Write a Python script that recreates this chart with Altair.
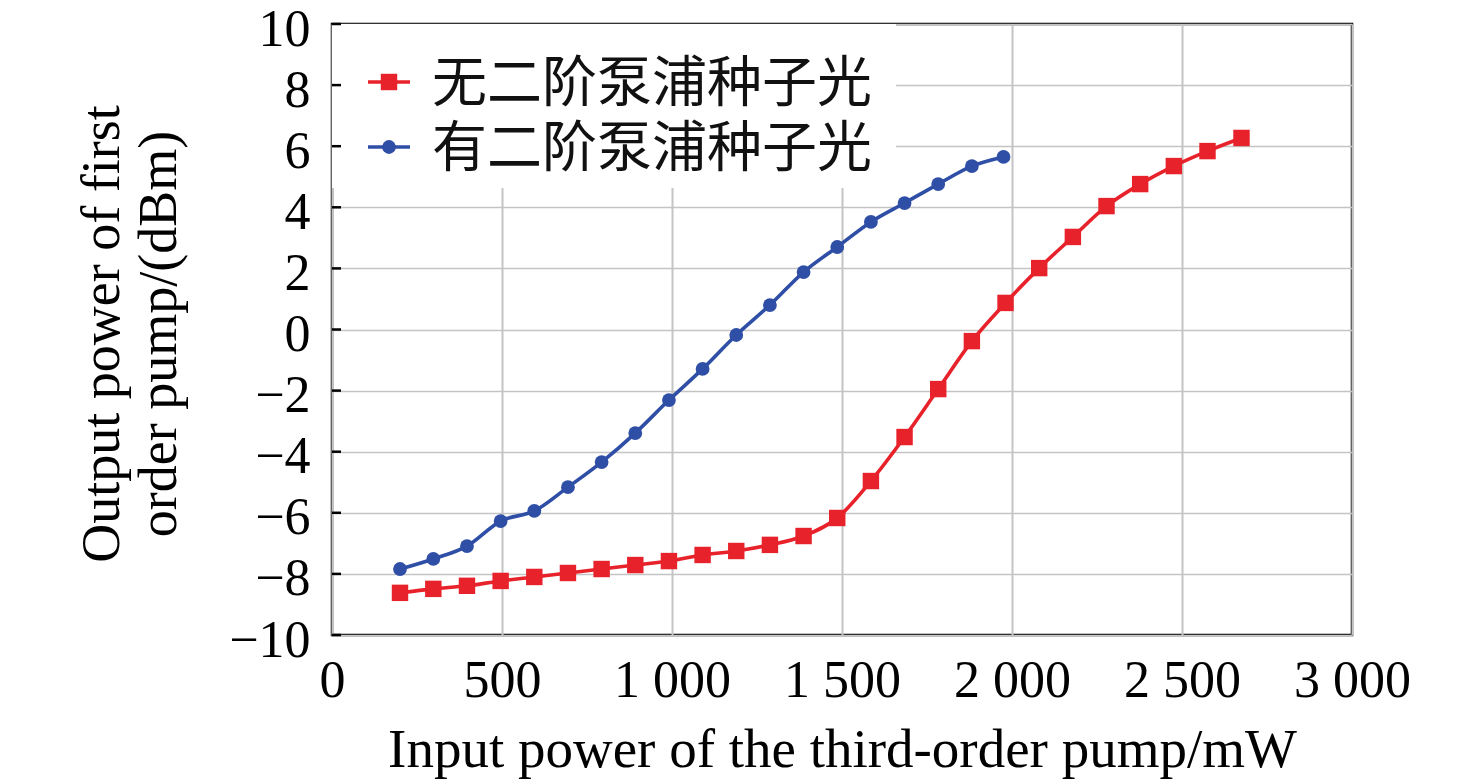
import altair as alt
import pandas as pd

# ---- data ----
series_names = ["无二阶泵浦种子光", "有二阶泵浦种子光"]
series_colors = ["#E8222B", "#2F4EA6"]

red_x = [200, 298, 397, 496, 595, 694, 793, 892, 991, 1090, 1189, 1288, 1387,
         1486, 1585, 1684, 1783, 1882, 1981, 2080, 2179, 2278, 2377, 2476, 2575, 2675]
red_y = [-8.62, -8.49, -8.39, -8.23, -8.10, -7.97, -7.84, -7.71, -7.58, -7.38, -7.25,
         -7.05, -6.76, -6.17, -4.96, -3.52, -1.95, -0.38, 0.87, 2.01, 3.03, 4.04,
         4.76, 5.35, 5.84, 6.27]

blue_x = [200, 298, 397, 496, 595, 694, 793, 892, 991, 1090, 1189, 1288, 1387,
          1486, 1585, 1684, 1783, 1882, 1975]
blue_y = [-7.84, -7.51, -7.09, -6.27, -5.94, -5.16, -4.34, -3.39, -2.31, -1.29, -0.18,
          0.80, 1.88, 2.70, 3.52, 4.14, 4.76, 5.35, 5.65]

x_ticks = [0, 500, 1000, 1500, 2000, 2500, 3000]
y_ticks = [-10, -8, -6, -4, -2, 0, 2, 4, 6, 8, 10]

x_title = "Input power of the third-order pump/mW"
y_title = ["Output power of first", "order pump/(dBm)"]

df = pd.concat([
    pd.DataFrame({"x": red_x, "y": red_y, "series": series_names[0]}),
    pd.DataFrame({"x": blue_x, "y": blue_y, "series": series_names[1]}),
], ignore_index=True)

W, H = 1020, 611
SERIF = "Liberation Serif"
CJK = "Noto Sans CJK SC"

x_enc = alt.X("x:Q", scale=alt.Scale(domain=[0, 3000], nice=False),
              axis=alt.Axis(values=x_ticks, title=x_title, grid=True, ticks=False, domain=False,
                            labelFont=SERIF, labelFontSize=52, labelColor="black",
                            labelPadding=20, labelFlush=False,
                            labelExpr="replace(format(datum.value, ','), ',', ' ')",
                            titleFont=SERIF, titleFontSize=55, titleFontWeight="normal",
                            titleColor="black", titleBaseline="alphabetic",
                            titleY=131, titleX=W / 2,
                            gridColor="#C4C4C4", gridWidth=2))
y_enc = alt.Y("y:Q", scale=alt.Scale(domain=[-10, 10], nice=False),
              axis=alt.Axis(values=y_ticks, title=y_title, grid=True, ticks=False, domain=False,
                            labelFont=SERIF, labelFontSize=52, labelColor="black",
                            labelPadding=22, labelFlush=False, labelOffset=5,
                            labelExpr="replace(format(datum.value, 'd'), '-', '\u2212')",
                            titleFont=SERIF, titleFontSize=54, titleFontWeight="normal",
                            titleColor="black", titleAngle=-90, titleAlign="center",
                            titleBaseline="alphabetic", titleLineHeight=57,
                            titleX=-214, titleY=H / 2 + 4,
                            gridColor="#C4C4C4", gridWidth=1.5))

color_scale = alt.Scale(domain=series_names, range=series_colors)

base = alt.Chart(df)

grid_layer = base.mark_point(opacity=0).encode(x=x_enc, y=y_enc)

# white box behind legend
legend_bg = alt.Chart(pd.DataFrame({"label": [series_names[0]]})).mark_rect(
    fill="white").encode(
    x=alt.value(0), x2=alt.value(564), y=alt.value(0), y2=alt.value(164))

# inward y ticks
tick_layer = alt.Chart(pd.DataFrame({"v": y_ticks})).mark_rule(
    color="black", strokeWidth=2.5).encode(
    x=alt.value(0), x2=alt.value(9), y=alt.Y("v:Q"))

lines = base.mark_line(strokeWidth=3.6, interpolate="monotone").encode(
    x="x:Q", y="y:Q",
    color=alt.Color("series:N", scale=color_scale, legend=None),
    detail="series:N")

points = base.mark_point(filled=True, opacity=1, strokeWidth=0).encode(
    x="x:Q", y="y:Q",
    color=alt.Color("series:N", scale=color_scale, legend=None),
    shape=alt.Shape("series:N", scale=alt.Scale(domain=series_names, range=["square", "circle"]),
                    legend=None),
    size=alt.Size("series:N", scale=alt.Scale(domain=series_names, range=[270, 190]),
                  legend=None))

# manual legend
legend_layers = []
row_y = [58, 123]
shapes = ["square", "circle"]
sizes = [270, 190]
for i, name in enumerate(series_names):
    d = alt.Chart(pd.DataFrame({"label": [name]}))
    legend_layers.append(d.mark_rule(color=series_colors[i], strokeWidth=3.6).encode(
        x=alt.value(36), x2=alt.value(78), y=alt.value(row_y[i])))
    legend_layers.append(d.mark_point(filled=True, opacity=1, color=series_colors[i],
                                      shape=shapes[i], size=sizes[i], strokeWidth=0).encode(
        x=alt.value(57), y=alt.value(row_y[i])))
    legend_layers.append(d.mark_text(font=CJK, fontSize=55, color="#111111", align="left",
                                     baseline="middle", dy=2).encode(
        x=alt.value(100), y=alt.value(row_y[i]), text="label:N"))

chart = alt.layer(grid_layer, legend_bg, tick_layer, lines, points, *legend_layers).properties(
    width=W, height=H,
    autosize=alt.AutoSizeParams(type="none"),
    padding={"left": 324, "top": 16, "right": 110, "bottom": 148},
).configure_view(stroke="black", strokeWidth=2.5)

chart.save("out.html", embed_options={"renderer": "svg", "actions": False})
